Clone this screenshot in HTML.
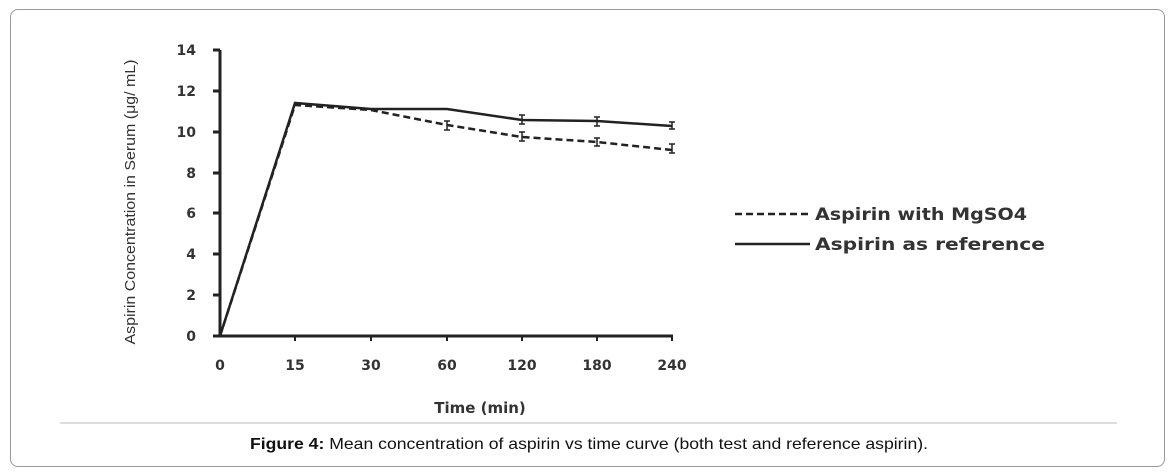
<!DOCTYPE html>
<html><head><style>
body{margin:0;background:#fff;width:1174px;height:473px;overflow:hidden;font-family:"Liberation Sans",sans-serif}
.box{position:absolute;left:10px;top:9px;width:1153px;height:456px;border:1px solid #999;border-radius:8px}
</style></head><body>
<div class="box"></div>
<svg width="1174" height="473" style="position:absolute;left:0;top:0">
<g font-family="DejaVu Sans, sans-serif" font-weight="bold" fill="#333" font-size="14">
<g text-anchor="end">
<text x="196" y="55">14</text><text x="196" y="96">12</text><text x="196" y="137">10</text>
<text x="196" y="178">8</text><text x="196" y="218">6</text><text x="196" y="259">4</text>
<text x="196" y="300">2</text><text x="196" y="341">0</text>
</g>
<g text-anchor="middle">
<text x="220" y="370">0</text><text x="295" y="370">15</text><text x="371" y="370">30</text>
<text x="447" y="370">60</text><text x="522" y="370">120</text><text x="597" y="370">180</text><text x="672" y="370">240</text>
<text x="480" y="413" font-size="15">Time (min)</text>
</g>
<text x="815" y="220" font-size="17" textLength="212" lengthAdjust="spacingAndGlyphs">Aspirin with MgSO4</text>
<text x="815" y="250" font-size="17" textLength="230" lengthAdjust="spacingAndGlyphs">Aspirin as reference</text>
</g>
<text transform="translate(135,202) rotate(-90)" text-anchor="middle" font-family="Liberation Sans, sans-serif" font-size="15" fill="#333" textLength="285" lengthAdjust="spacingAndGlyphs">Aspirin Concentration in Serum (μg/ mL)</text>
<g stroke="#222" stroke-width="3" fill="none">
<line x1="220" y1="50" x2="220" y2="337"/>
<line x1="219" y1="336" x2="673" y2="336"/>
<line x1="213" y1="50" x2="220" y2="50"/><line x1="213" y1="91" x2="220" y2="91"/>
<line x1="213" y1="132" x2="220" y2="132"/><line x1="213" y1="173" x2="220" y2="173"/>
<line x1="213" y1="213" x2="220" y2="213"/><line x1="213" y1="254" x2="220" y2="254"/>
<line x1="213" y1="295" x2="220" y2="295"/><line x1="213" y1="336" x2="220" y2="336"/>
<g stroke-width="2">
<line x1="295" y1="336" x2="295" y2="341"/><line x1="371" y1="336" x2="371" y2="341"/>
<line x1="447" y1="336" x2="447" y2="341"/><line x1="522" y1="336" x2="522" y2="341"/>
<line x1="597" y1="336" x2="597" y2="341"/><line x1="672" y1="336" x2="672" y2="341"/>
</g>
<polyline points="220,336 295,103 371,109 447,109 522,120 597,121 672,126" stroke-width="2.5"/>
<polyline points="220,336 295,105 371,110 447,125 522,137 597,142 672,150" stroke-width="2.5" stroke-dasharray="7,4"/>
<g stroke-width="1.5">
<path d="M519,115h6M519,124h6M522,115v9M594,117h6M594,126h6M597,117v9M669,122h6M669,129h6M672,122v7"/>
<path d="M444,121h6M444,130h6M447,121v9M519,132h6M519,141h6M522,132v9M594,138h6M594,146h6M597,138v8M669,144h6M669,153h6M672,144v9"/>
</g>
<line x1="735" y1="214" x2="810" y2="214" stroke-width="2.5" stroke-dasharray="7,4"/>
<line x1="735" y1="244" x2="810" y2="244" stroke-width="2.5"/>
</g>
<line x1="60" y1="423" x2="1117" y2="423" stroke="#ddd" stroke-width="2"/>
<text x="589" y="449" text-anchor="middle" font-family="Liberation Sans, sans-serif" font-size="16" fill="#111" textLength="678" lengthAdjust="spacingAndGlyphs"><tspan font-weight="bold">Figure 4:</tspan> Mean concentration of aspirin vs time curve (both test and reference aspirin).</text>
</svg>
</body></html>
